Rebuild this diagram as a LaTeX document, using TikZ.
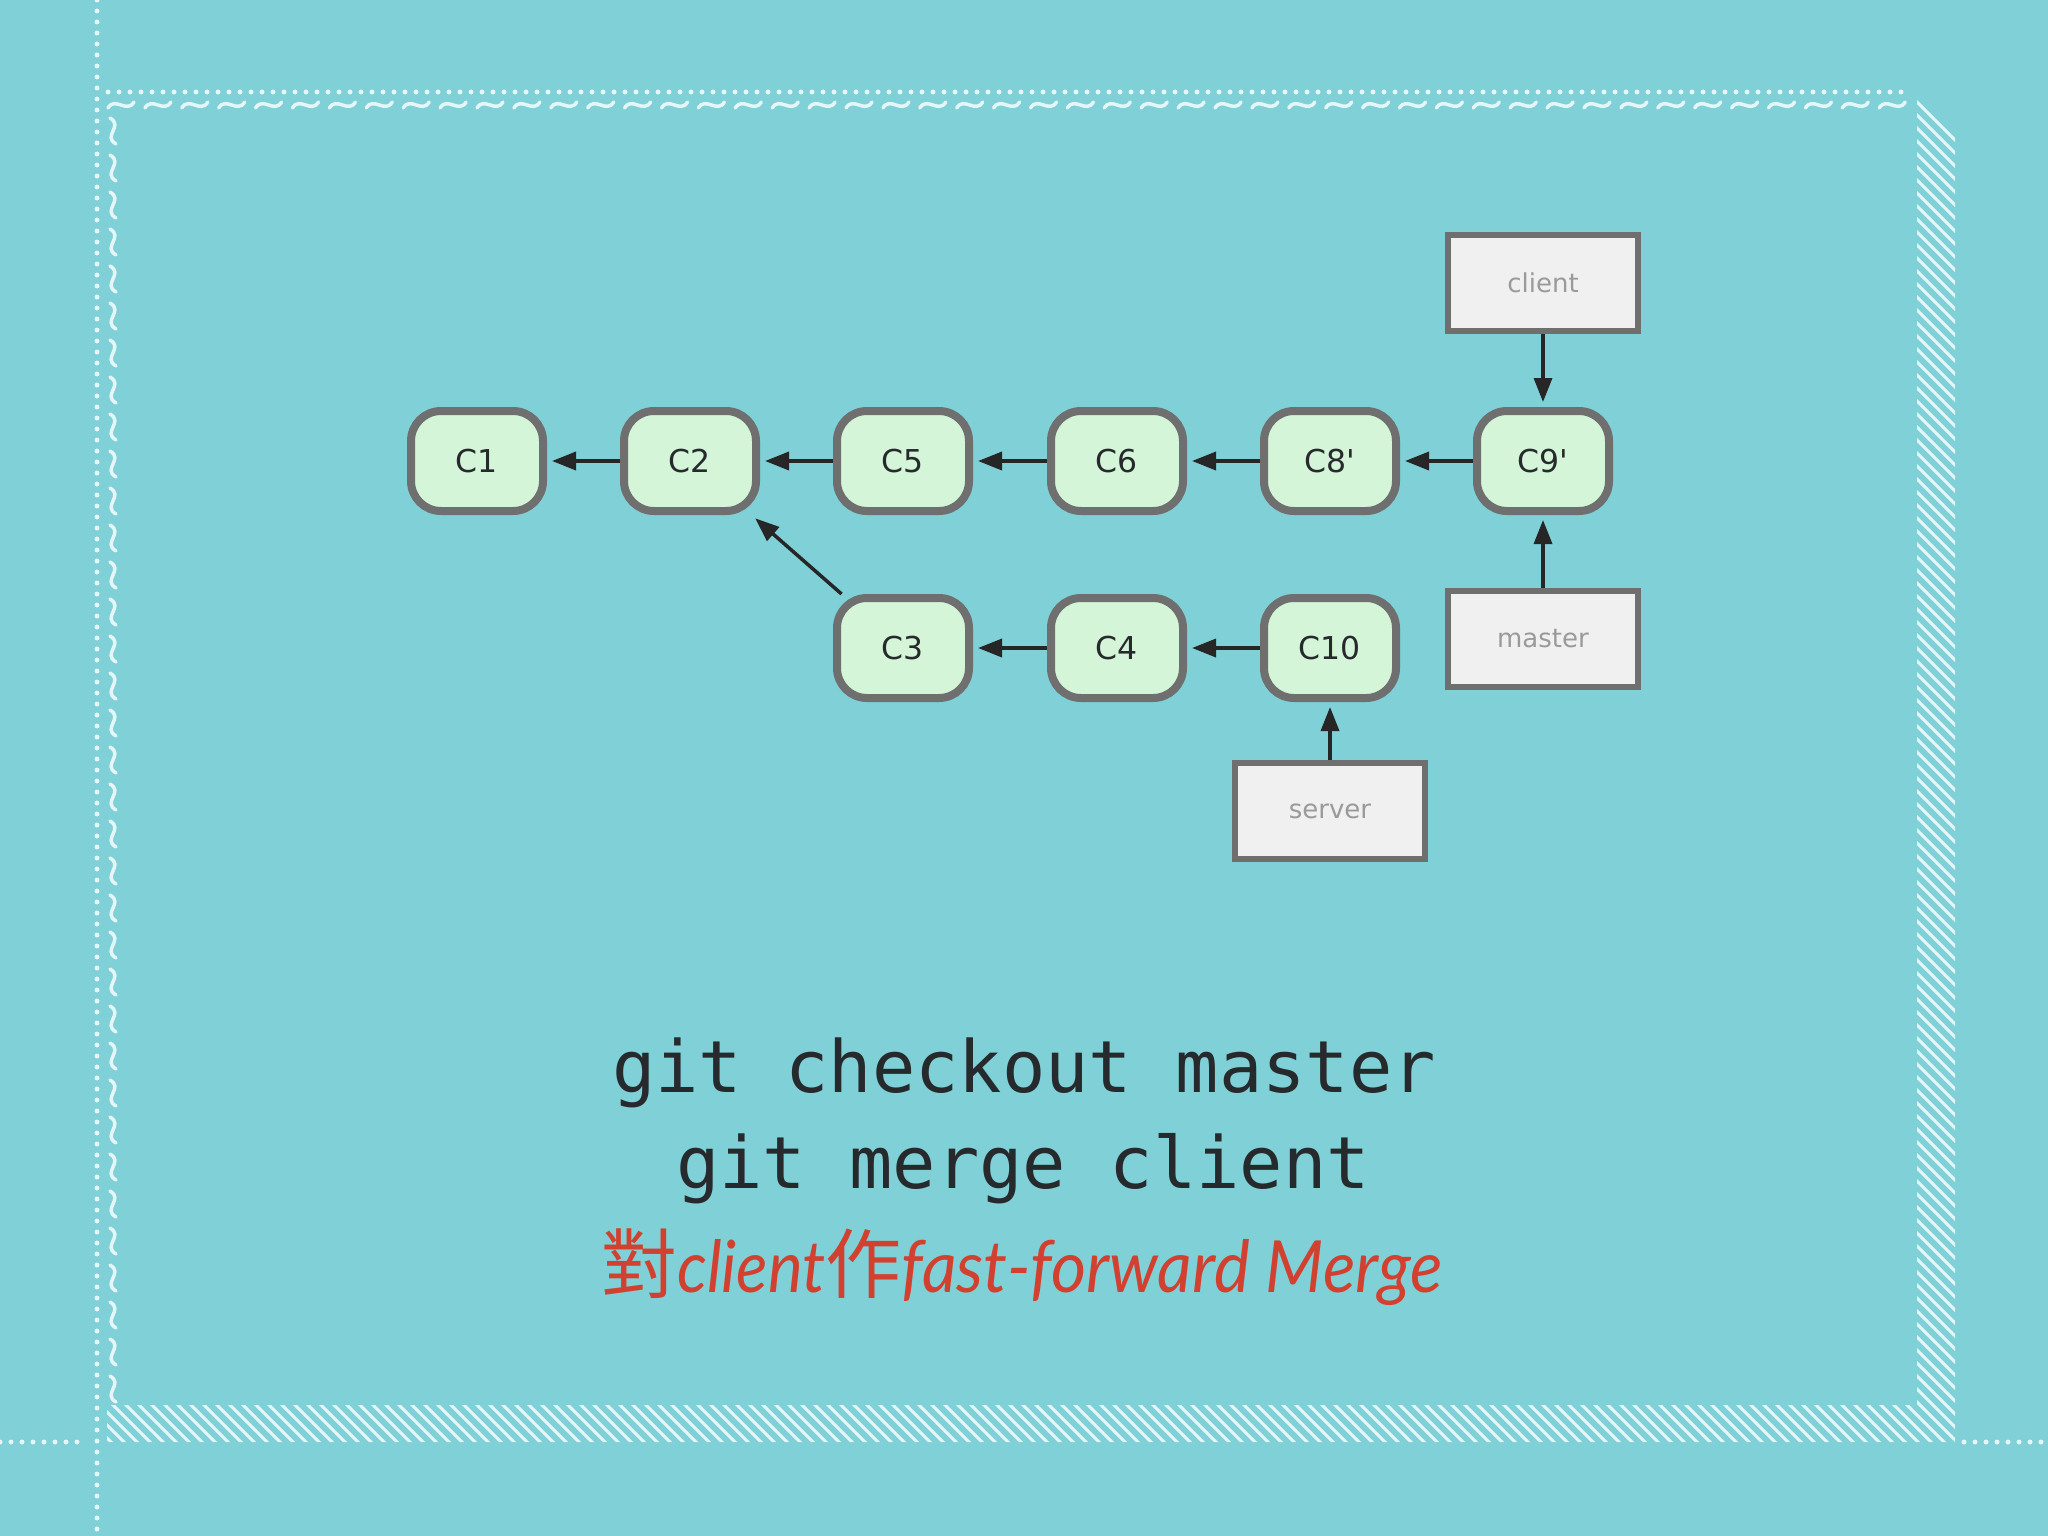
\documentclass[tikz,border=0pt]{standalone}
\usepackage{fontspec}
\newfontfamily\monof{DejaVu Sans Mono}
\newfontfamily\labf[Ligatures=TeXOff]{DejaVu Sans}
\newfontfamily\redf{Lato}
\newfontfamily\cjkf{Noto Sans CJK TC}
\usetikzlibrary{arrows.meta}
\definecolor{bg}{HTML}{80D0D8}
\definecolor{deco}{HTML}{E4F6F8}
\definecolor{cfill}{HTML}{D4F5D8}
\definecolor{cborder}{HTML}{6F6F6F}
\definecolor{lfill}{HTML}{F0F0F0}
\definecolor{ltext}{HTML}{9A9A9A}
\definecolor{redtext}{HTML}{D2412F}
\definecolor{ink}{HTML}{262A2C}
\begin{document}
\begin{tikzpicture}[x=1pt,y=-1pt,
 commit/.style={draw=cborder, fill=cfill, line width=8pt, rounded corners=30pt,
   minimum width=132pt, minimum height=100pt, inner sep=0pt,
   font=\labf\fontsize{31.5}{36}\selectfont, text=ink},
 branch/.style={draw=cborder, fill=lfill, line width=6pt, minimum width=190pt,
   minimum height=96pt, inner sep=0pt, font=\labf\fontsize{26}{30}\selectfont, text=ltext},
 link/.style={line width=3.5pt, black!85, -{Triangle[length=24pt,width=18pt]}, shorten >=5pt},
 dots/.style={deco, line width=5pt, line cap=round, dash pattern=on 0pt off 11pt},
 wave/.style={deco, line width=3.5pt, line cap=round},
 hatch/.style={deco, line width=3pt},
]
\useasboundingbox (0,0) rectangle (2048,1536);
\fill[bg] (0,0) rectangle (2048,1536);
% dotted guide lines
\draw[dots] (97,0) -- (97,1536);
\draw[dots] (108,92) -- (1907,92);
\draw[dots] (0,1442) -- (86,1442);
\draw[dots] (1964,1442) -- (2048,1442);
% tilde borders
\foreach \i in {0,...,48} {
  \pgfmathsetmacro\xx{108+36.9*\i}
  \draw[wave] (\xx,108) .. controls (\xx+7,96) and (\xx+19,114) .. (\xx+26,102);
}
\foreach \i in {0,...,34} {
  \pgfmathsetmacro\yy{118+37*\i}
  \draw[wave] (110,\yy) .. controls (124,\yy+8) and (102,\yy+18) .. (116,\yy+26);
}
% hatched shadow band
\begin{scope}
\clip (1917,93) -- (1955,131) -- (1955,1442) -- (107,1442) -- (107,1405) -- (1917,1405) -- cycle;
\foreach \c in {-1500,-1487,...,2000} \draw[hatch] (\c,0) -- (\c+1600,1600);
\end{scope}
% commits
\node[commit] (c1) at (477,461) {C1};
\node[commit] (c2) at (690,461) {C2};
\node[commit] (c5) at (903,461) {C5};
\node[commit] (c6) at (1117,461) {C6};
\node[commit] (c8) at (1330,461) {C8'};
\node[commit] (c9) at (1543,461) {C9'};
\node[commit] (c3) at (903,648) {C3};
\node[commit] (c4) at (1117,648) {C4};
\node[commit] (c10) at (1330,648) {C10};
% branches
\node[branch] (client) at (1543,283) {client};
\node[branch] (master) at (1543,639) {master};
\node[branch] (server) at (1330,811) {server};
% links
\draw[link] (c2) -- (c1);
\draw[link] (c5) -- (c2);
\draw[link] (c6) -- (c5);
\draw[link] (c8) -- (c6);
\draw[link] (c9) -- (c8);
\draw[link] (c3) -- (c2);
\draw[link] (c4) -- (c3);
\draw[link] (c10) -- (c4);
\draw[link] (client) -- (c9);
\draw[link] (master) -- (c9);
\draw[link] (server) -- (c10);
% text
\node[anchor=base, inner sep=0pt, font=\monof\fontsize{72}{80}\selectfont, text=ink] (l1) at (1024,1092) {git checkout master};
\node[anchor=base, inner sep=0pt, font=\monof\fontsize{72}{80}\selectfont, text=ink] (l2) at (1023,1188) {git merge client};
\node[anchor=base, inner sep=0pt, text=redtext] (l3) at (1022,1292)
  {{\cjkf\fontsize{76}{80}\selectfont 對}\scalebox{0.91}[1]{\redf\itshape\fontsize{72}{80}\selectfont client}{\cjkf\fontsize{76}{80}\selectfont 作}\scalebox{0.94}[1]{\redf\itshape\fontsize{72}{80}\selectfont fast-forward Merge}};
\end{tikzpicture}
\end{document}
